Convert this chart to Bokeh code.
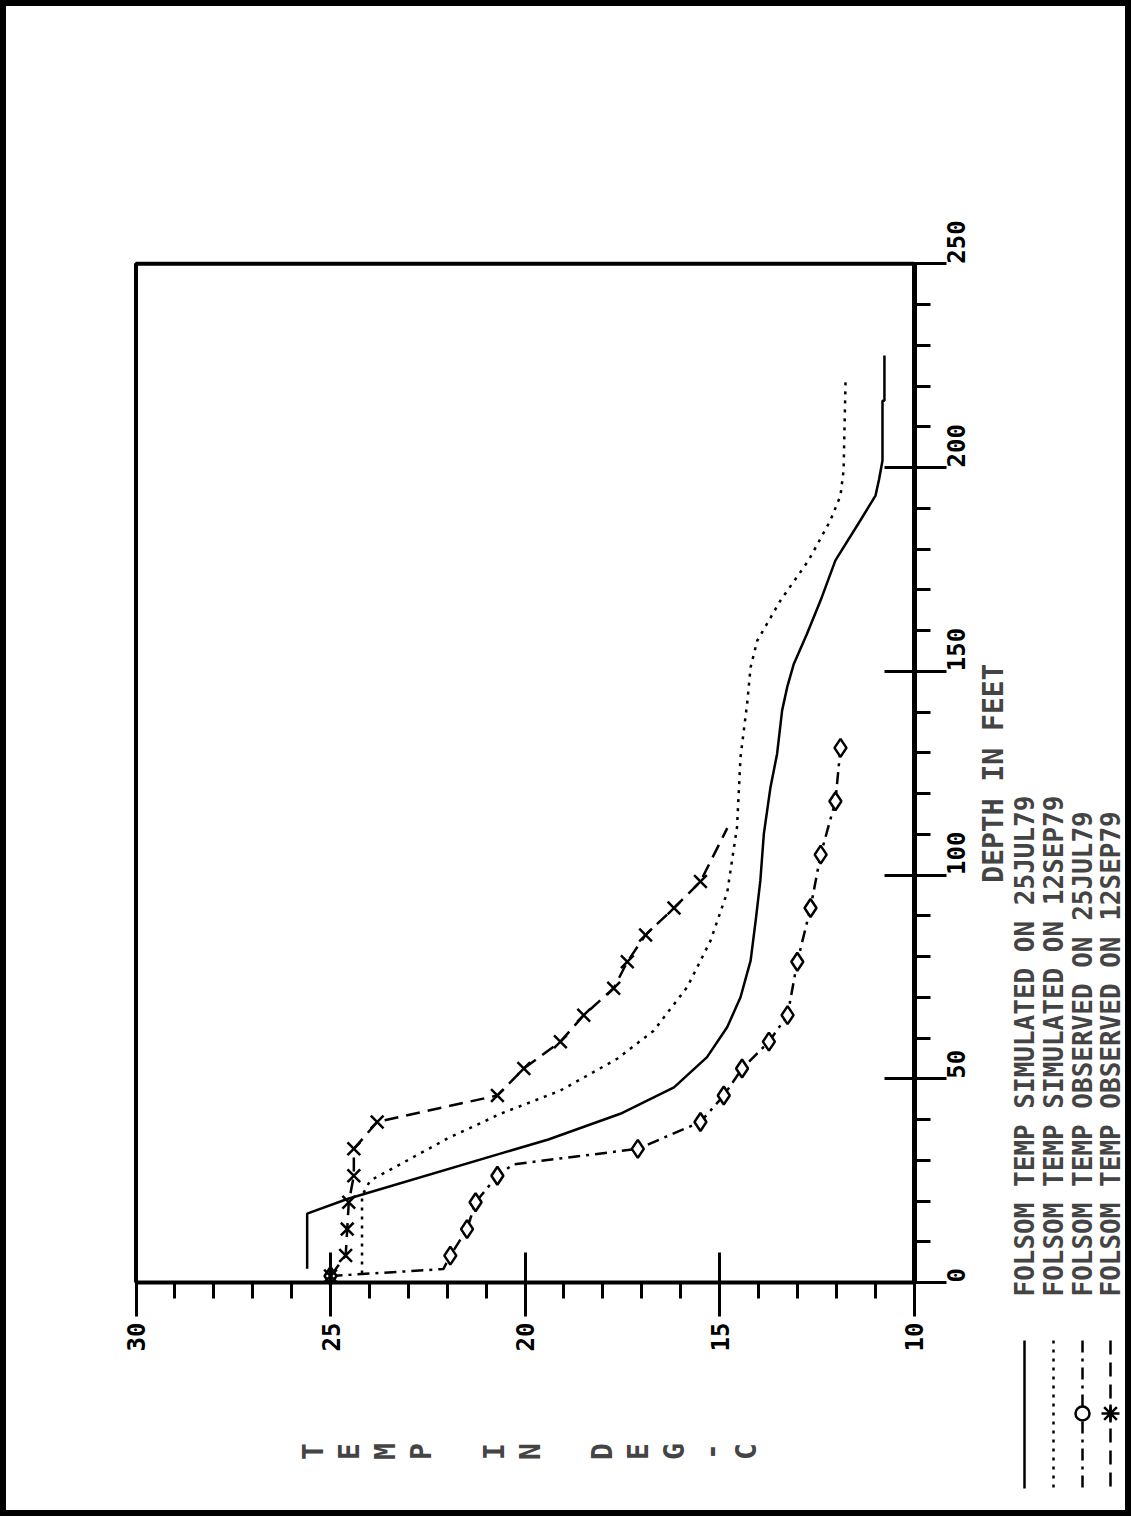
import numpy as np
from bokeh.plotting import figure
from bokeh.models import Range1d, LinearAxis, FixedTicker, Label
from bokeh.embed import file_html
from bokeh.resources import INLINE

# ---------------- data ----------------
# simulated 25JUL79 (solid)
sim_jul_depth = [3.4, 16.9, 20.5, 35.1, 41.4, 47.9, 55.3, 62.7, 70.0, 79.0, 88.8, 98.6,
                 110.1, 121.5, 129.7, 140.4, 146.1, 151.8, 159.2, 167.4, 177.2, 187.0,
                 193.1, 197.0, 201.7, 216.4, 216.4, 227.5]
sim_jul_temp = [25.6, 25.6, 24.57, 19.4, 17.55, 16.17, 15.32, 14.80, 14.46, 14.20, 14.07, 13.95,
                13.86, 13.69, 13.52, 13.39, 13.26, 13.09, 12.75, 12.40, 12.02, 11.38,
                10.99, 10.90, 10.81, 10.81, 10.76, 10.76]
# simulated 12SEP79 (dotted)
sim_sep_depth = [2.2, 21.3, 25.0, 35.3, 41.4, 47.1, 54.9, 61.8, 72.5, 83.9, 95.8, 111.7,
                 128.9, 142.0, 151.0, 157.5, 167.4, 177.2, 187.0, 193.1, 199.3, 220.9]
sim_sep_temp = [24.19, 24.19, 23.98, 22.0, 20.63, 19.09, 17.63, 16.69, 15.83, 15.23, 14.80, 14.55,
                14.46, 14.29, 14.20, 14.03, 13.43, 12.71, 12.15, 11.89, 11.81, 11.76]
# observed 25JUL79 (dash-dot, diamonds)
obs_jul_depth = [1.6, 3.3, 6.6, 13.1, 19.7, 26.2, 29.0, 32.8, 39.4, 45.9, 52.5, 59.1, 65.6,
                 78.7, 91.9, 105.0, 118.1, 131.2]
obs_jul_temp = [25.0, 22.1, 21.92, 21.49, 21.27, 20.71, 20.3, 17.1, 15.49, 14.89, 14.42, 13.73,
                13.25, 13.0, 12.66, 12.40, 12.02, 11.89]
obs_jul_unmarked = [1, 6]
# observed 12SEP79 (dashed, crosses)
obs_sep_depth = [1.6, 6.6, 13.1, 19.7, 26.2, 32.8, 39.4, 45.9, 52.5, 59.1, 65.6, 72.2, 78.7,
                 85.3, 91.9, 98.4, 111.5]
obs_sep_temp = [25.0, 24.61, 24.57, 24.53, 24.40, 24.40, 23.80, 20.71, 20.03, 19.09, 18.49, 17.72,
                17.37, 16.90, 16.17, 15.49, 14.80]
obs_sep_unmarked = [16]

temp_ticks = [10, 15, 20, 25, 30]
depth_ticks = [0, 50, 100, 150, 200, 250]
legend_labels = ["FOLSOM TEMP SIMULATED ON 25JUL79",
                 "FOLSOM TEMP SIMULATED ON 12SEP79",
                 "FOLSOM TEMP OBSERVED ON 25JUL79",
                 "FOLSOM TEMP OBSERVED ON 12SEP79"]
x_title = "DEPTH IN FEET"
y_title = "TEMP IN DEG-C"

# ---------------- layout helpers (page pixel -> data) ----------------
W, H = 1131, 1516
def tx(px):   # page x pixel -> temperature
    return 30 - (px - 135.5) / 38.9
def dy(py):   # page y pixel -> depth
    return (1282 - py) / 4.075

FONT = "DejaVu Sans Mono"

p = figure(width=W, height=H,
           x_range=Range1d(tx(0), tx(W)),
           y_range=Range1d(dy(H), dy(0)),
           output_backend="svg", toolbar_location=None,
           x_axis_location=None, y_axis_location=None,
           min_border=0, min_border_left=0, min_border_right=0,
           min_border_top=0, min_border_bottom=0)
p.grid.visible = False
p.outline_line_color = "black"
p.outline_line_width = 11
p.background_fill_color = "white"
p.border_fill_color = "white"

# temperature axis (drawn along depth 0)
xax = LinearAxis(fixed_location=0, bounds=(10, 30),
                 ticker=FixedTicker(ticks=temp_ticks, minor_ticks=list(range(10, 31))))
xax.axis_line_width = 4
xax.major_tick_line_width = 3
xax.minor_tick_line_width = 3
xax.major_tick_in = 30
xax.major_tick_out = 34
xax.minor_tick_in = 0
xax.minor_tick_out = 16
xax.major_label_orientation = np.pi / 2
xax.major_label_standoff = 6
xax.major_label_text_font = FONT
xax.major_label_text_font_size = "24px"
xax.major_label_text_font_style = "bold"
xax.major_label_text_color = "black"
p.add_layout(xax, "below")

# depth axis (drawn along temperature 10)
yax = LinearAxis(fixed_location=10, bounds=(0, 250),
                 ticker=FixedTicker(ticks=depth_ticks, minor_ticks=list(range(0, 251, 10))))
yax.axis_line_width = 5
yax.major_tick_line_width = 3
yax.minor_tick_line_width = 3
yax.major_tick_in = 30
yax.major_tick_out = 32
yax.minor_tick_in = 0
yax.minor_tick_out = 16
yax.major_label_orientation = np.pi / 2
yax.major_label_standoff = 10
yax.major_label_text_font = FONT
yax.major_label_text_font_size = "24px"
yax.major_label_text_font_style = "bold"
yax.major_label_text_color = "black"
p.add_layout(yax, "right")

# remaining sides of the plot box
p.line([30, 30, 10], [0, 250, 250], line_color="black", line_width=4)

# series
p.line(sim_jul_temp, sim_jul_depth, line_color="black", line_width=2.5)
p.line(sim_sep_temp, sim_sep_depth, line_color="black", line_width=2.5, line_dash="3 6")
p.line(obs_jul_temp, obs_jul_depth, line_color="black", line_width=2.5, line_dash="12 6 3 6")
mj = [i for i in range(len(obs_jul_depth)) if i not in obs_jul_unmarked]
p.scatter([obs_jul_temp[i] for i in mj], [obs_jul_depth[i] for i in mj], marker="diamond",
          size=18, fill_color="white", line_color="black", line_width=2.5)
p.line(obs_sep_temp, obs_sep_depth, line_color="black", line_width=2.5, line_dash="14 8")
ms = [i for i in range(len(obs_sep_depth)) if i not in obs_sep_unmarked]
p.scatter([obs_sep_temp[i] for i in ms], [obs_sep_depth[i] for i in ms], marker="x",
          size=18, line_color="black", line_width=2.5)

# axis title for depth
p.add_layout(Label(x=tx(993), y=125, text=x_title, angle=np.pi / 2,
                   text_align="center", text_baseline="middle",
                   text_font=FONT, text_font_size="28px", text_font_style="bold"))

# temperature title, letters stacked and rotated
for i, ch in enumerate(y_title):
    if ch == " ":
        continue
    p.add_layout(Label(x=tx(313 + 36.1 * i), y=dy(1451), text=ch, angle=np.pi / 2,
                       text_align="center", text_baseline="middle",
                       text_font=FONT, text_font_size="28px", text_font_style="bold"))

# legend
cols = [1024, 1053, 1082, 1110]
dashes = ["solid", "3 6", "12 6 3 6", "14 8"]
for k, (cx, lab, dsh) in enumerate(zip(cols, legend_labels, dashes)):
    p.add_layout(Label(x=tx(cx), y=dy(1296), text=lab, angle=np.pi / 2,
                       text_align="left", text_baseline="middle",
                       text_font=FONT, text_font_size="26px", text_font_style="bold"))
    p.line([tx(cx), tx(cx)], [dy(1340), dy(1488)], line_color="black",
           line_width=2.5, line_dash=dsh)
p.scatter([tx(cols[2])], [dy(1413)], marker="circle", size=14, fill_color="white",
          line_color="black", line_width=2.5)
p.scatter([tx(cols[3])], [dy(1413)], marker="asterisk", size=18,
          line_color="black", line_width=2.5)

open("out.html", "w").write(file_html(p, INLINE))
